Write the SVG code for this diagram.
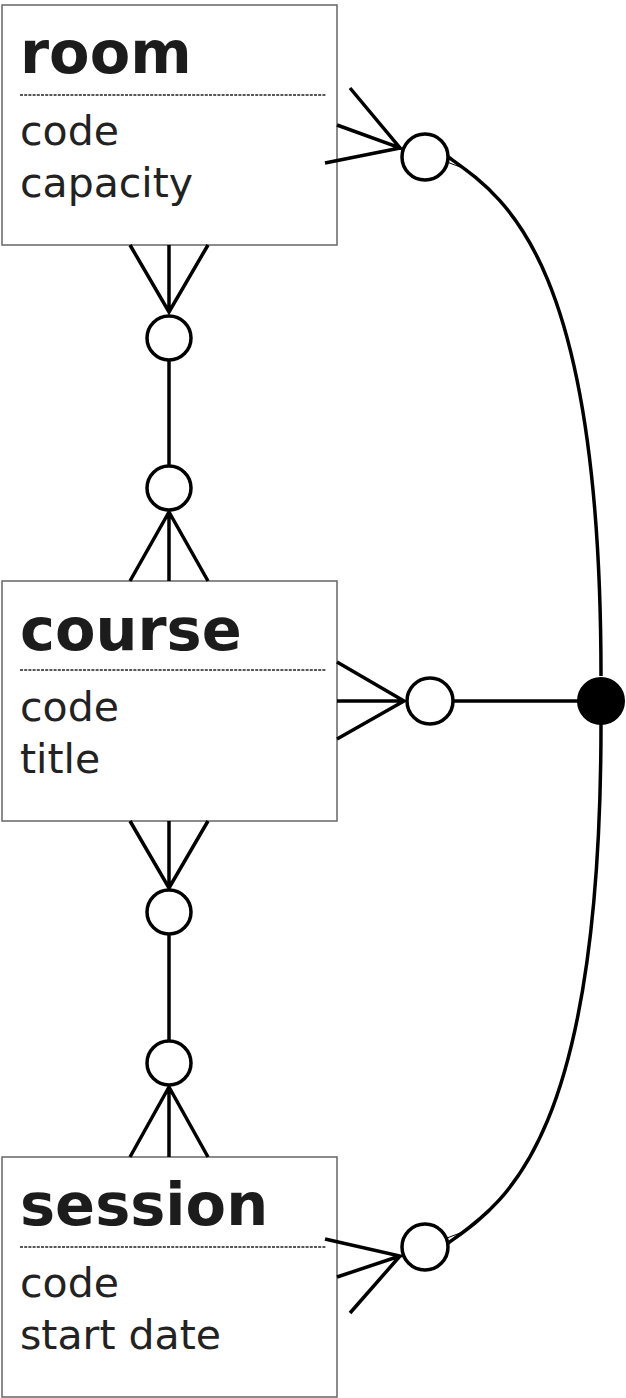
<svg xmlns="http://www.w3.org/2000/svg" width="626" height="1398" viewBox="0 0 626 1398">
<style>
.box{fill:#fff;stroke:#666;stroke-width:1.5}
.title{font-family:"DejaVu Sans",Verdana,sans-serif;font-weight:bold;font-size:59px;fill:#1c1c1c}
.attr{font-family:"DejaVu Sans",Verdana,sans-serif;font-size:41px;fill:#222}
.sep{stroke:#222;stroke-width:1.3;stroke-dasharray:3,1.2}
.ln{fill:none;stroke:#000;stroke-width:3.5}
.thin{fill:none;stroke:#000;stroke-width:1}
.oc{fill:#fff;stroke:#000;stroke-width:3.5}
.fc{fill:#000;stroke:#000;stroke-width:2}
</style>
<rect width="626" height="1398" fill="#fff"/>
<g id="room">
<rect class="box" x="2" y="5" width="335" height="240"/>
<text class="title" x="20" y="73">room</text>
<line class="sep" x1="20" y1="95" x2="326" y2="95"/>
<text class="attr" x="20" y="145">code</text>
<text class="attr" x="20" y="197">capacity</text>
</g>
<g id="course">
<rect class="box" x="2" y="581" width="335" height="240"/>
<text class="title" x="20" y="650">course</text>
<line class="sep" x1="20" y1="670" x2="326" y2="670"/>
<text class="attr" x="20" y="721">code</text>
<text class="attr" x="20" y="773">title</text>
</g>
<g id="session">
<rect class="box" x="2" y="1157" width="335" height="240"/>
<text class="title" x="20" y="1225">session</text>
<line class="sep" x1="20" y1="1247" x2="326" y2="1247"/>
<text class="attr" x="20" y="1297">code</text>
<text class="attr" x="20" y="1349">start date</text>
</g>
<g id="connectors">
<path class="ln" d="M130,245 L169,312 L208,245 M169,245 L169,312"/>
<line class="ln" x1="169" y1="360" x2="169" y2="465"/>
<circle class="oc" cx="169" cy="338" r="22"/>
<circle class="oc" cx="169" cy="488" r="22"/>
<path class="ln" d="M130,581 L169,512 L208,581 M169,581 L169,512"/>
<path class="ln" d="M130,821 L169,888 L208,821 M169,821 L169,888"/>
<line class="ln" x1="169" y1="935" x2="169" y2="1040"/>
<circle class="oc" cx="169" cy="912" r="22"/>
<circle class="oc" cx="169" cy="1063" r="22"/>
<path class="ln" d="M130,1157 L169,1087 L208,1157 M169,1157 L169,1087"/>
<path class="ln" d="M337,662 L404,701 L337,739 M337,701 L404,701"/>
<line class="ln" x1="453" y1="701" x2="578" y2="701"/>
<circle class="oc" cx="430" cy="701" r="23"/>
<path class="ln" d="M350,88 L400,148 L337,125 M325,163 L400,148"/>
<path class="ln" d="M447,156 C500,195 601,250 601,676"/>
<line class="thin" x1="447" y1="162" x2="468" y2="170"/>
<circle class="oc" cx="425" cy="157" r="23"/>
<path class="ln" d="M325,1239 L400,1256 L337,1277 M350,1313 L400,1256"/>
<path class="ln" d="M447,1244 C500,1205 601,1150 601,724"/>
<line class="thin" x1="447" y1="1238" x2="468" y2="1230"/>
<circle class="oc" cx="425" cy="1247" r="23"/>
<circle class="fc" cx="601" cy="701" r="23"/>
</g>
</svg>
